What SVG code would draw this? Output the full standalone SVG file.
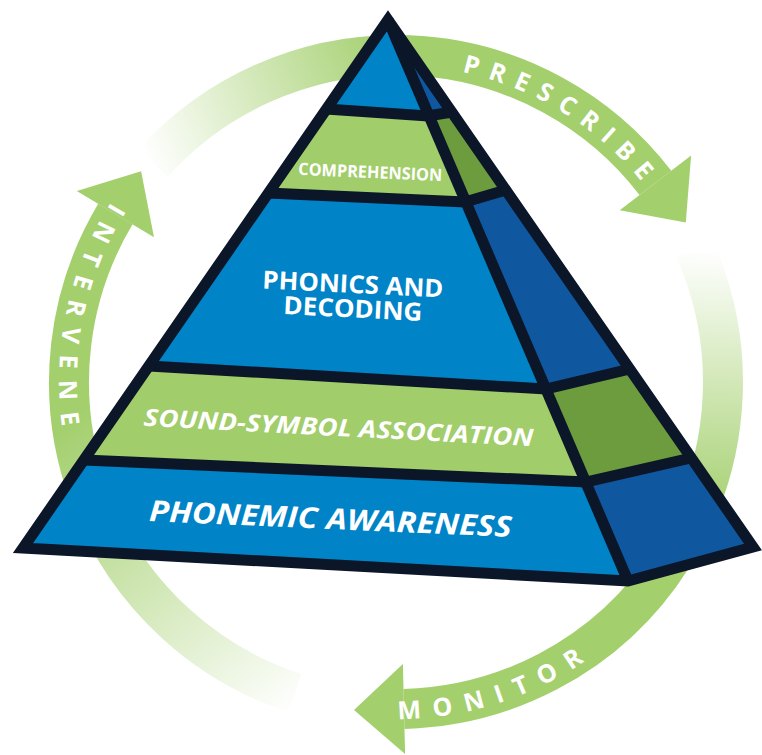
<svg xmlns="http://www.w3.org/2000/svg" width="762" height="755" viewBox="0 0 762 755">
<defs>
<style>
.band{fill:none;stroke-width:40;stroke-linecap:butt}
.head{fill:#a3cf6d}
.arc-label{font-family:"Open Sans","Liberation Sans",sans-serif;font-weight:700;font-size:25px;fill:#ffffff}
.blue{fill:#0083c7}
.dblue{fill:#0f58a0}
.green{fill:#a1cd6a}
.dgreen{fill:#6c9c3e}
.edge{fill:none;stroke:#0b1628;stroke-width:11;stroke-linejoin:miter;stroke-miterlimit:10}
.lbl{font-family:"Open Sans","Liberation Sans",sans-serif;font-weight:700;fill:#ffffff;text-anchor:middle}
.it{font-style:italic;font-weight:700}
</style>
<linearGradient id="g1" gradientUnits="userSpaceOnUse" x1="150" y1="165" x2="400" y2="60">
<stop offset="0" stop-color="#a3cf6d" stop-opacity="0"/>
<stop offset="1" stop-color="#a3cf6d"/>
</linearGradient>
<linearGradient id="g2" gradientUnits="userSpaceOnUse" x1="700" y1="250" x2="690" y2="520">
<stop offset="0" stop-color="#a3cf6d" stop-opacity="0"/>
<stop offset="1" stop-color="#a3cf6d"/>
</linearGradient>
<linearGradient id="g3" gradientUnits="userSpaceOnUse" x1="300" y1="705" x2="70" y2="420">
<stop offset="0" stop-color="#a3cf6d" stop-opacity="0"/>
<stop offset="1" stop-color="#a3cf6d"/>
</linearGradient>
<path id="p1" d="M353.5,67.9 A317,317 0 0 1 698,285.6"/>
<path id="p2" d="M271.1,695 A337,337 0 0 0 682.6,559.3"/>
<path id="p3" d="M185.3,119 A337,337 0 0 0 100.4,543.8"/>
</defs>

<g id="connectors">
<g id="prescribe">
<path class="band" stroke="url(#g1)" d="M153,163.2 A327,327 0 0 1 655.4,182.9"/>
<polygon class="head" points="691.1,155.5 685.8,222.6 619.7,210.3"/>
<text class="arc-label" letter-spacing="10.3"><textPath href="#p1" startOffset="50%" text-anchor="middle">PRESCRIBE</textPath></text>
</g>
<g id="monitor">
<path class="band" stroke="url(#g2)" d="M694.7,249 A327,327 0 0 1 404,708.9"/>
<polygon class="head" points="402.9,663.9 354,710.1 405.1,753.9"/>
<text class="arc-label" letter-spacing="12.5"><textPath href="#p2" startOffset="50%" text-anchor="middle">MONITOR</textPath></text>
</g>
<g id="intervene">
<path class="band" stroke="url(#g3)" d="M295,693 A327,327 0 0 1 115.4,214.1"/>
<polygon class="head" points="76.8,191 141.1,171.2 154,237.2"/>
<text class="arc-label" letter-spacing="12"><textPath href="#p3" startOffset="50%" text-anchor="middle">INTERVENE</textPath></text>
</g>
</g>

<g id="pyramid">
<g id="layer-top">
<polygon class="blue" points="388,20 326,109 428,116"/>
<polygon class="dblue" points="388,20 428,116 452,112"/>
</g>
<g id="layer-comprehension">
<polygon class="green" points="326,109 428,116 465,202 268,193"/>
<polygon class="dgreen" points="428,116 452,112 506,190 465,202"/>
<text class="lbl" x="370" y="178" font-size="17" textLength="144" lengthAdjust="spacingAndGlyphs" transform="rotate(2.5 370 178)">COMPREHENSION</text>
</g>
<g id="layer-phonics">
<polygon class="blue" points="268,193 465,202 546,389 149,366"/>
<polygon class="dblue" points="465,202 506,190 630,369 546,389"/>
<text class="lbl" x="352.5" y="293" font-size="25" textLength="181" lengthAdjust="spacingAndGlyphs" transform="rotate(2.8 352.5 293)">PHONICS AND</text>
<text class="lbl" x="352.5" y="317.5" font-size="25" textLength="139" lengthAdjust="spacingAndGlyphs" transform="rotate(2.8 352.5 317.5)">DECODING</text>
</g>
<g id="layer-sound-symbol">
<polygon class="green" points="149,366 546,389 586,482 84,460"/>
<polygon class="dgreen" points="546,389 630,369 691,458 586,482"/>
<text class="lbl it" x="338" y="436" font-size="24" textLength="390" lengthAdjust="spacingAndGlyphs" transform="rotate(3 338 436)">SOUND-SYMBOL ASSOCIATION</text>
</g>
<g id="layer-phonemic">
<polygon class="blue" points="84,460 586,482 628,581 23,548"/>
<polygon class="dblue" points="586,482 691,458 753,547 628,581"/>
<text class="lbl it" x="330" y="529" font-size="29" textLength="363" lengthAdjust="spacingAndGlyphs" transform="rotate(2.5 330 529)">PHONEMIC AWARENESS</text>
</g>
<g id="pyramid-lines">
<polyline class="edge" points="326,109 428,116 452,112"/>
<polyline class="edge" points="268,193 465,202 506,190"/>
<polyline class="edge" points="149,366 546,389 630,369"/>
<polyline class="edge" points="84,460 586,482 691,458"/>
<line class="edge" x1="388" y1="20" x2="628" y2="581"/>
<polygon class="edge" points="388,20 23,548 628,581 753,547"/>
</g>
</g>
</svg>
